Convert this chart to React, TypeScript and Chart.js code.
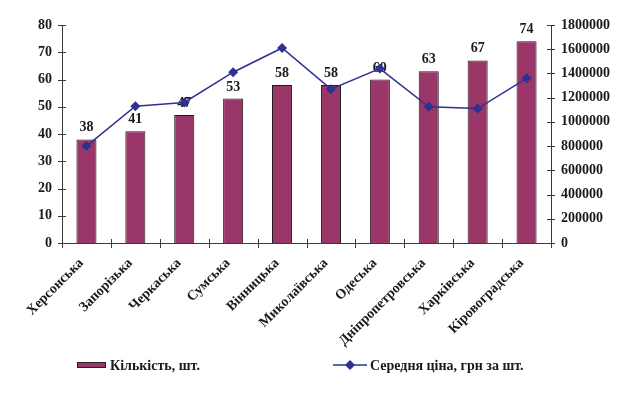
import React, { useEffect, useRef } from "react";
import { Chart, registerables } from "chart.js";

Chart.register(...registerables);

const categories = [
  "Херсонська",
  "Запорізька",
  "Черкаська",
  "Сумська",
  "Вінницька",
  "Миколаївська",
  "Одеська",
  "Дніпропетровська",
  "Харківська",
  "Кіровоградська",
];
const counts = [38, 41, 47, 53, 58, 58, 60, 63, 67, 74];
const avgPrice = [800000, 1130000, 1160000, 1410000, 1610000, 1270000, 1440000, 1125000, 1110000, 1360000];
const leftTicks = [0, 10, 20, 30, 40, 50, 60, 70, 80];
const rightTicks = [0, 200000, 400000, 600000, 800000, 1000000, 1200000, 1400000, 1600000, 1800000];
const barLabel = "Кількість, шт.";
const lineLabel = "Середня ціна, грн за шт.";

const FONT = "'Liberation Serif', 'Times New Roman', serif";
const BAR_COLOR = "#9B3668";
const LINE_COLOR = "#2E3192";
const AXIS_COLOR = "#3a3a3a";

const overlayPlugin = {
  id: "overlay",
  afterDatasetDraw(chart: any, args: any) {
    if (args.index !== 0) return;
    const ctx = chart.ctx;
    const meta = chart.getDatasetMeta(0);
    ctx.save();
    ctx.font = `bold 14px ${FONT}`;
    ctx.fillStyle = "#1a1a1a";
    ctx.textAlign = "center";
    ctx.textBaseline = "alphabetic";
    meta.data.forEach((el: any, i: number) => {
      ctx.fillText(String(counts[i]), el.x, el.y - 8);
    });
    ctx.restore();
  },
  afterDraw(chart: any) {
    const ctx = chart.ctx;
    const { left, right, bottom } = chart.chartArea;
    ctx.save();
    ctx.strokeStyle = AXIS_COLOR;
    ctx.lineWidth = 1;
    const yL = chart.scales.y;
    yL.ticks.forEach((_t: any, i: number) => {
      const py = Math.round(yL.getPixelForTick(i)) + 0.5;
      ctx.beginPath();
      ctx.moveTo(left - 4, py);
      ctx.lineTo(left + 4, py);
      ctx.stroke();
    });
    const yR = chart.scales.y1;
    yR.ticks.forEach((_t: any, i: number) => {
      const py = Math.round(yR.getPixelForTick(i)) + 0.5;
      ctx.beginPath();
      ctx.moveTo(right - 4, py);
      ctx.lineTo(right + 4, py);
      ctx.stroke();
    });
    const n = categories.length;
    const step = (right - left) / n;
    for (let i = 0; i <= n; i++) {
      const px = Math.round(left + step * i) + 0.5;
      ctx.beginPath();
      ctx.moveTo(px, bottom - 4);
      ctx.lineTo(px, bottom + 5);
      ctx.stroke();
    }
    // legend
    const ly = 365;
    ctx.fillStyle = BAR_COLOR;
    ctx.fillRect(77, ly - 3, 29, 6);
    ctx.strokeStyle = "#222";
    ctx.strokeRect(77.5, ly - 2.5, 28, 5);
    ctx.font = `bold 14px ${FONT}`;
    ctx.fillStyle = "#1a1a1a";
    ctx.textAlign = "left";
    ctx.textBaseline = "middle";
    ctx.fillText(barLabel, 110, ly + 1);
    ctx.strokeStyle = LINE_COLOR;
    ctx.lineWidth = 1.5;
    ctx.beginPath();
    ctx.moveTo(333, ly);
    ctx.lineTo(367, ly);
    ctx.stroke();
    ctx.fillStyle = LINE_COLOR;
    ctx.beginPath();
    ctx.moveTo(350, ly - 5);
    ctx.lineTo(355, ly);
    ctx.lineTo(350, ly + 5);
    ctx.lineTo(345, ly);
    ctx.closePath();
    ctx.fill();
    ctx.fillStyle = "#1a1a1a";
    ctx.fillText(lineLabel, 370, ly + 1);
    ctx.restore();
  },
};

export default function App() {
  const ref = useRef<HTMLCanvasElement | null>(null);
  useEffect(() => {
    document.body.style.margin = "0";
    const canvas = ref.current;
    if (!canvas) return;
    const chart = new Chart(canvas, {
      type: "bar",
      data: {
        labels: categories,
        datasets: [
          {
            type: "bar",
            label: barLabel,
            data: counts,
            backgroundColor: BAR_COLOR,
            borderColor: "#1a1a1a",
            borderWidth: 1,
            barPercentage: 0.41,
            categoryPercentage: 1,
            yAxisID: "y",
            order: 2,
          },
          {
            type: "line",
            label: lineLabel,
            data: avgPrice,
            borderColor: LINE_COLOR,
            backgroundColor: LINE_COLOR,
            borderWidth: 1.5,
            pointStyle: "rectRot",
            pointRadius: 5,
            pointBorderWidth: 0,
            tension: 0,
            yAxisID: "y1",
            order: 1,
          } as any,
        ],
      },
      options: {
        animation: false,
        responsive: false,
        events: [],
        layout: { padding: { top: 25, left: 0, right: 0, bottom: 0 } },
        plugins: { legend: { display: false }, tooltip: { enabled: false } },
        scales: {
          x: {
            offset: true,
            grid: { display: false, drawTicks: false, tickLength: 0 },
            border: { display: true, color: AXIS_COLOR, width: 1 },
            ticks: {
              color: "#1a1a1a",
              font: { family: FONT, size: 14, weight: "bold" },
              maxRotation: 45,
              minRotation: 45,
              padding: 12,
              labelOffset: -5,
              autoSkip: false,
            },
            afterFit(scale: any) {
              scale.height = 151;
            },
          },
          y: {
            position: "left",
            min: 0,
            max: 80,
            afterBuildTicks(scale: any) {
              scale.ticks = leftTicks.map((v) => ({ value: v }));
            },
            grid: { display: false, drawTicks: false, tickLength: 0 },
            border: { display: true, color: AXIS_COLOR, width: 1 },
            ticks: {
              color: "#1a1a1a",
              font: { family: FONT, size: 14, weight: "bold" },
              padding: 10,
            },
            afterFit(scale: any) {
              scale.width = 62;
            },
          },
          y1: {
            position: "right",
            min: 0,
            max: 1800000,
            afterBuildTicks(scale: any) {
              scale.ticks = rightTicks.map((v) => ({ value: v }));
            },
            grid: { display: false, drawTicks: false, tickLength: 0 },
            border: { display: true, color: AXIS_COLOR, width: 1 },
            ticks: {
              color: "#1a1a1a",
              font: { family: FONT, size: 14, weight: "bold" },
              padding: 10,
              callback: (v: any) => String(v),
            },
            afterFit(scale: any) {
              scale.width = 85;
            },
          },
        },
      },
      plugins: [overlayPlugin],
    });
    return () => chart.destroy();
  }, []);
  return (
    <div style={{ width: 636, height: 394, background: "#fff" }}>
      <canvas ref={ref} width={636} height={394} style={{ display: "block" }} />
    </div>
  );
}
